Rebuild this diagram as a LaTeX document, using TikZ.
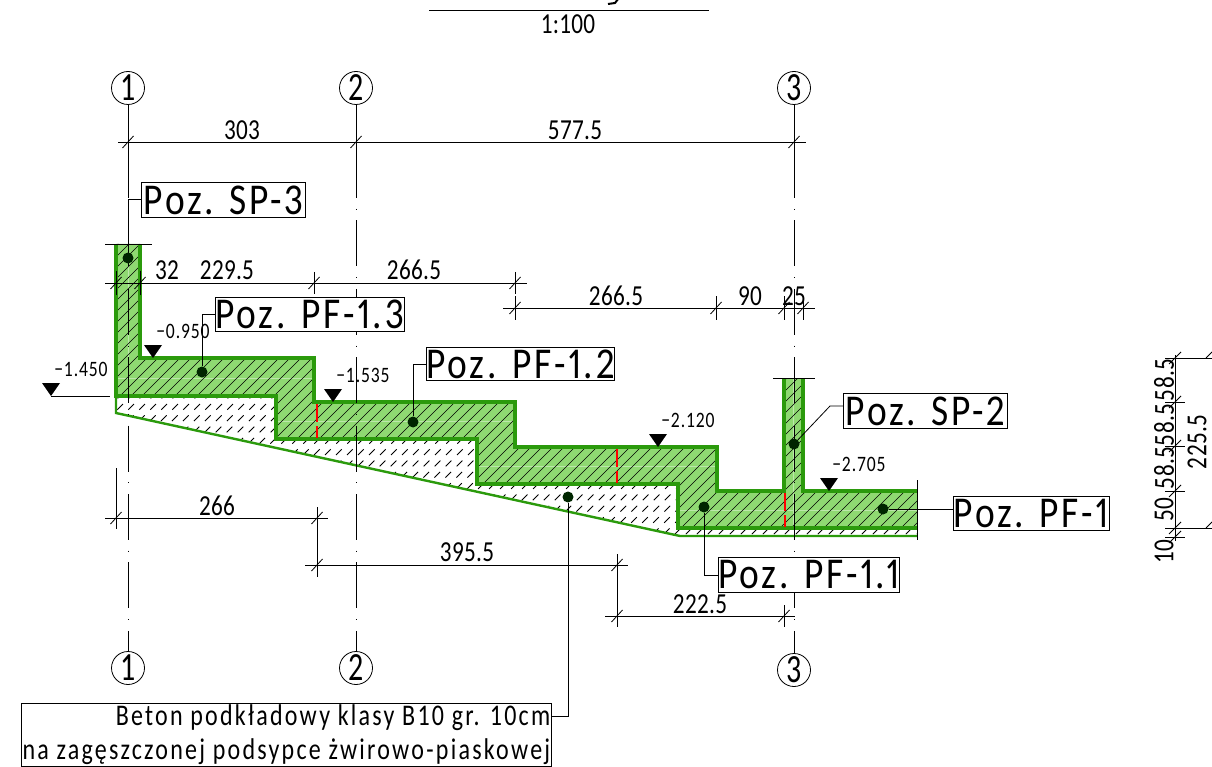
\documentclass[tikz,border=0pt]{standalone}
\usepackage{fontspec}
\setmainfont{Carlito}
\newfontfamily\posfont[FakeStretch=0.85,LetterSpace=6.5,Numbers=Proportional]{Carlito}
\newfontfamily\dimfont[FakeStretch=0.8,LetterSpace=1]{Carlito}
\newfontfamily\levfont[FakeStretch=0.8,LetterSpace=4]{Carlito}
\newfontfamily\numfont[FakeStretch=0.75]{Carlito}
\newfontfamily\bedfont[FakeStretch=0.8,LetterSpace=7.5]{Carlito}
\definecolor{wallgreen}{HTML}{8FD972}
\definecolor{edgegreen}{HTML}{2B9A0C}
\newcommand\HatchLines[2]{%
    \foreach \hx in {100,#1,...,1300}
        \draw[#2] (\hx,240) -- ++(-330,330);
}
\newcommand\DimTick[3]{%
    \draw[thinline] (#1,#2-#3) -- (#1,#2+#3);
    \draw[thinline] (#1-5.5,#2+6) -- (#1+5.5,#2-6);
}
\newcommand\VDimTick[2]{%
    \draw[thinline] (#1-10,#2) -- (#1+10,#2);
    \draw[thinline] (#1-6,#2+6) -- (#1+6,#2-6);
}
\newcommand\LevelMark[3]{%
    \fill (#1,#2) -- ++(-9,-13) -- ++(18,0) -- cycle;
    \node[leveltext] at (#1+30,#2-27) {#3};
}
\tikzset{
    thinline/.style={line width=0.8pt},
    axisline/.style={line width=0.8pt,dash pattern=on 93.5pt off 10.5pt on 1pt off 10.5pt on 46pt off 10.7pt on 1pt off 10.7pt on 46pt off 10.7pt on 1pt off 10.7pt on 46pt off 10.7pt on 1pt off 10.7pt on 46pt off 10.7pt on 1pt off 10.7pt on 46pt off 10.7pt on 1pt off 10.7pt on 46pt off 10.7pt on 1pt off 10.7pt on 60pt},
    axisnum/.style={circle,draw,line width=0.8pt,minimum size=33pt,inner sep=0pt,font=\numfont\fontsize{40}{40}\selectfont},
    poslabel/.style={draw,line width=0.8pt,fill=white,inner sep=0pt,anchor=north west,font=\posfont\fontsize{44}{44}\selectfont},
    dimtext/.style={font=\dimfont\fontsize{29}{29}\selectfont,inner sep=0pt},
    leveltext/.style={font=\levfont\fontsize{22}{22}\selectfont,inner sep=0pt},
    dot/.style={circle,fill=black!85!green,inner sep=0pt,minimum size=11pt},
    redcut/.style={color=red,line width=1.3pt,dash pattern=on 18pt off 4pt on 30pt off 1pt},
}
\begin{document}
\begin{tikzpicture}[x=1pt,y=-1pt]
    \useasboundingbox (0,0) rectangle (1212,767);
    % title rest
    \draw[line width=1.8pt] (429,10.5) -- (709,10.5);
    \begin{scope}
        \clip (590,0) rectangle (640,6);
        \draw[line width=2pt] (622,-6) -- (615,3) -- (608,4);
    \end{scope}
    \node[dimtext] at (568,24) {1:100};
    % slab
    \def\WallLow{(116,244) -- (116,396) -- (276,396) -- (276,439) -- (477,439) -- (477,484) -- (678,484) -- (678,528) -- (917,528)}
    \def\WallHigh{(917,491) -- (803,491) -- (803,378)}
    \def\WallMid{(784,378) -- (784,491) -- (717,491) -- (717,447) -- (515,447) -- (515,402) -- (314,402) -- (314,358) -- (140,358) -- (140,244)}
    \def\BedPath{(116,396) -- (276,396) -- (276,439) -- (477,439) -- (477,484) -- (678,484) -- (678,528) -- (917,528) -- (917,536) -- (680,536) -- (116,413)}
    \begin{scope}
        \clip \BedPath -- cycle;
        \HatchLines{111}{line width=0.9pt,dash pattern=on 8pt off 8pt,dash phase=8pt}
    \end{scope}
    \fill[wallgreen] \WallLow -- \WallHigh -- \WallMid -- cycle;
    \draw[white,opacity=0.4] (116,378) -- (314,378) (276,421) -- (515,421) (477,466) -- (717,466) (678,510) -- (917,510) (128,244) -- (128,396) (793,378) -- (793,528);
    \begin{scope}
        \clip \WallLow -- \WallHigh -- \WallMid -- cycle;
        \HatchLines{111}{line width=0.6pt}
    \end{scope}
    \draw[edgegreen,line width=3.6pt] \WallLow;
    \draw[edgegreen,line width=3.6pt] \WallHigh;
    \draw[edgegreen,line width=3.6pt] \WallMid;
    \draw[edgegreen,line width=2.4pt] (116,396) -- (116,413) -- (680,536) -- (917,536);
    % axes
    \node[axisnum] (axisAt) at (128,88) {1};
    \node[axisnum] (axisBt) at (356,88) {2};
    \node[axisnum] (axisCt) at (794,88) {3};
    \node[axisnum] (axisAb) at (128,668) {1};
    \node[axisnum] (axisBb) at (356,668) {2};
    \node[axisnum] (axisCb) at (794,670) {3};
    \draw[axisline] (axisAt) -- (axisAb);
    \draw[axisline] (axisBt) -- (axisBb);
    \draw[axisline] (axisCt) -- (axisCb);
    \draw[redcut] (317,404) -- (317,438);
    \draw[redcut] (617,449) -- (617,483);
    \draw[redcut] (785,493) -- (785,527);
    % upper dimensions
    \draw[thinline] (118,142) -- (806,142);
    \DimTick{128}{142}{0}
    \DimTick{356}{142}{0}
    \DimTick{794}{142}{0}
    \node[dimtext] at (242,130) {303};
    \node[dimtext] at (575,130) {577.5};
    \draw[thinline] (105,283) -- (527,283);
    \DimTick{116}{283}{12}
    \DimTick{140}{283}{12}
    \DimTick{314}{283}{11}
    \DimTick{515}{283}{11}
    \node[dimtext] at (167,270) {32};
    \node[dimtext] at (227,270) {229.5};
    \node[dimtext] at (414,270) {266.5};
    \draw[thinline] (503,308) -- (815,308);
    \DimTick{515}{308}{12}
    \DimTick{716}{308}{12}
    \DimTick{784}{308}{12}
    \DimTick{803}{308}{12}
    \node[dimtext] at (616,296) {266.5};
    \node[dimtext] at (750,296) {90};
    \node[dimtext] at (794,296) {25};
    \draw[thinline] (105,244) -- (152,244);
    \draw[thinline] (773,378) -- (815,378);
    \draw[thinline] (917,480) -- (917,540);
    % lower dimensions
    \draw[thinline] (105,518) -- (328,518);
    \draw[thinline] (116,468) -- (116,529);
    \DimTick{116}{518}{0}
    \DimTick{317}{518}{0}
    \draw[thinline] (317,507) -- (317,577);
    \node[dimtext] at (217,506) {266};
    \draw[thinline] (305,565) -- (628,565);
    \DimTick{317}{565}{0}
    \DimTick{617}{565}{0}
    \draw[thinline] (617,554) -- (617,627);
    \node[dimtext] at (467,552) {395.5};
    \draw[thinline] (605,616) -- (795,616);
    \DimTick{617}{616}{0}
    \DimTick{784}{616}{11}
    \node[dimtext] at (700,604) {222.5};
    % right dimensions
    \draw[thinline] (1175,355) -- (1175,541);
    \VDimTick{1175}{358}
    \VDimTick{1175}{402}
    \VDimTick{1175}{446}
    \VDimTick{1175}{491}
    \VDimTick{1175}{528}
    \VDimTick{1175}{537}
    \draw[thinline] (1175,358) -- (1212,358);
    \draw[thinline] (1175,528) -- (1212,528);
    \draw[thinline] (1206,358) -- (1212,352);
    \draw[thinline] (1206,528) -- (1212,522);
    \node[dimtext,rotate=90] at (1164,380) {58.5};
    \node[dimtext,rotate=90] at (1164,425) {58.5};
    \node[dimtext,rotate=90] at (1164,468) {58.5};
    \node[dimtext,rotate=90] at (1164,510) {50};
    \node[dimtext,rotate=90] at (1164,552) {10};
    \node[dimtext,rotate=90] at (1197,442) {225.5};
    % levels
    \LevelMark{51}{396}{−1.450}
    \draw[thinline] (51,396) -- (110,396);
    \LevelMark{153}{358}{−0.950}
    \LevelMark{333}{402}{−1.535}
    \LevelMark{658}{447}{−2.120}
    \LevelMark{829}{491}{−2.705}
    % position labels
    \node[poslabel,minimum width=164pt,minimum height=35pt] (boxSPc) at (141,182) {Poz. SP-3};
    \node[poslabel,minimum width=183pt,minimum height=34pt] (boxPFc) at (215,297) {Poz. PF-1.3};
    \node[poslabel,minimum width=183pt,minimum height=33pt] (boxPFb) at (426,347) {Poz. PF-1.2};
    \node[poslabel,minimum width=164pt,minimum height=35pt] (boxSPb) at (843,393) {Poz. SP-2};
    \node[poslabel,minimum width=156pt,minimum height=34pt] (boxPFz) at (953,496) {Poz. PF-1};
    \node[poslabel,minimum width=177pt,minimum height=35pt] (boxPFa) at (718,557) {Poz. PF-1.1};
    \node[draw,line width=0.8pt,fill=white,anchor=north west,inner sep=0pt,minimum width=530pt,minimum height=63pt,font=\bedfont\fontsize{30}{34}\selectfont,align=right] (boxBed) at (21,703) {Beton podkładowy klasy B10 gr. 10cm\\na zagęszczonej podsypce żwirowo-piaskowej};
    \node[dot] (dotSPc) at (128,258) {};
    \node[dot] (dotPFc) at (202,372) {};
    \node[dot] (dotPFb) at (413,422) {};
    \node[dot] (dotSPb) at (794,444) {};
    \node[dot] (dotPFz) at (883,509) {};
    \node[dot] (dotPFa) at (704,507) {};
    \node[dot] (dotBed) at (568,497) {};
    \coordinate (bendSPb) at (830,406);
    \draw[thinline] (dotSPc) |- (boxSPc.west);
    \draw[thinline] (dotPFc) |- (boxPFc.west);
    \draw[thinline] (dotPFb) |- (boxPFb.west);
    \draw[thinline] (dotSPb) -- (bendSPb) -- (bendSPb -| boxSPb.west);
    \draw[thinline] (dotPFz) -- (dotPFz -| boxPFz.west);
    \draw[thinline] (dotPFa) |- (boxPFa.west);
    \draw[thinline] (dotBed) |- (boxBed.east |- 0,716);
\end{tikzpicture}
\end{document}
